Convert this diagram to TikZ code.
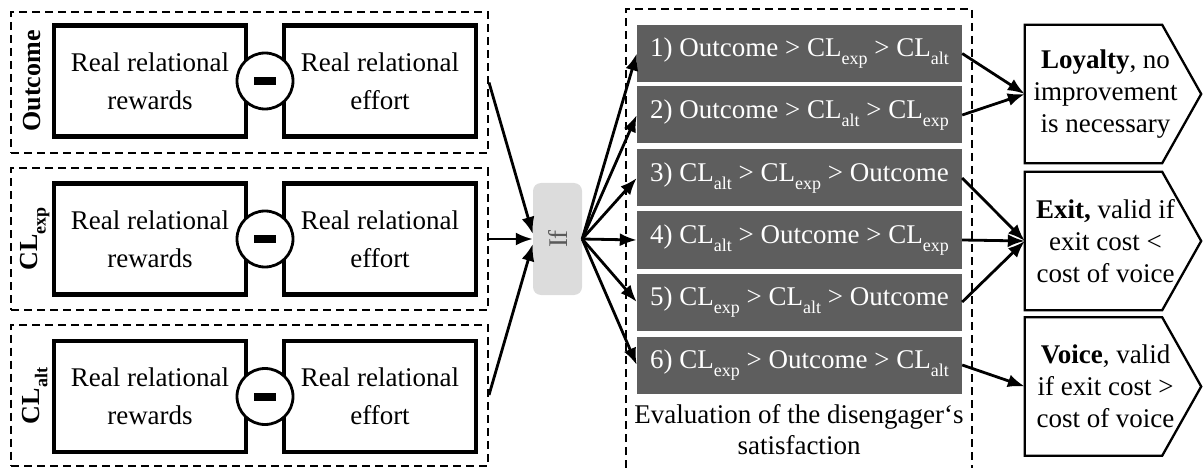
\documentclass[tikz,border=0pt]{standalone}
\usepackage{fontspec}
\setmainfont{Liberation Serif}
\usetikzlibrary{arrows.meta,calc}
\definecolor{rowgray}{HTML}{5E5E5E}
\definecolor{ifgray}{HTML}{DCDCDC}
\definecolor{iftext}{HTML}{5A5A5A}
% lowered, smaller subscript set in the text font
\newcommand\lsub[1]{\raisebox{-0.3em}{\fontsize{18}{18}\selectfont #1}}

\begin{document}
\begin{tikzpicture}[x=1pt,y=-1pt,
  dashline/.style={dashed, dash pattern=on 8pt off 5pt, line width=2pt},
  group/.style={draw, dashline, minimum width=477pt, minimum height=141pt, inner sep=0pt},
  term/.style={draw, line width=4.5pt, minimum width=192pt, minimum height=111pt,
    align=center, inner sep=0pt, font=\fontsize{27}{38}\selectfont},
  minus/.style={circle, draw, line width=2.8pt, fill=white, minimum size=56pt, inner sep=0pt},
  rowlabel/.style={rotate=90, inner sep=0pt, font=\bfseries\fontsize{26}{30}\selectfont},
  cond/.style={fill=rowgray, text=white, minimum width=325pt, minimum height=57pt,
    inner sep=0pt, font=\fontsize{27}{30}\selectfont},
  result/.style={minimum width=137pt, minimum height=138pt, inner sep=0pt},
  restext/.style={align=center, inner sep=0pt, font=\fontsize{27}{32}\selectfont},
  resline/.style={line width=2.3pt, line join=miter},
  link/.style={line width=2.8pt, -{Latex[length=17pt,width=13pt]}},
]
\useasboundingbox (0,0) rectangle (1203,468);

% --- three difference groups -------------------------------------------
\node[group] (g1) at (249.5,82.5) {};
\node[group] (g2) at (249.5,239) {};
\node[group] (g3) at (249.5,395) {};

\node[rowlabel] (l1) at (32,81) {Outcome};
\node[rowlabel] (l2) at (35,239) {CL\lsub{exp}};
\node[rowlabel] (l3) at (35,396) {CL\lsub{alt}};

\node[term] (a1) at (150,81) {Real relational\\rewards};
\node[term] (b1) at (380,81) {Real relational\\effort};
\node[term] (a2) at (150,239) {Real relational\\rewards};
\node[term] (b2) at (380,239) {Real relational\\effort};
\node[term] (a3) at (150,396.5) {Real relational\\rewards};
\node[term] (b3) at (380,396.5) {Real relational\\effort};

\node[minus] (m1) at (265,81) {\rule{22pt}{8pt}};
\node[minus] (m2) at (265,239) {\rule{22pt}{8pt}};
\node[minus] (m3) at (265,396.5) {\rule{22pt}{8pt}};

% --- decision node ------------------------------------------------------
\node[fill=ifgray, rounded corners=8pt, minimum width=49pt, minimum height=112pt,
  inner sep=0pt] (if) at (557.5,239) {};
\node[rotate=90, text=iftext, font=\fontsize{27}{30}\selectfont, inner sep=0pt]
  (iflabel) at (if.center) {If};

% --- evaluation column --------------------------------------------------
\draw[dashline] (626,468) -- (626,9) -- (972,9) -- (972,468);

\node[cond] (c1) at (799.5,53.5) {1) Outcome > CL\lsub{exp} > CL\lsub{alt}};
\node[cond] (c2) at (799.5,115) {2) Outcome > CL\lsub{alt} > CL\lsub{exp}};
\node[cond] (c3) at (799.5,178) {3) CL\lsub{alt} > CL\lsub{exp} > Outcome};
\node[cond] (c4) at (799.5,240) {4) CL\lsub{alt} > Outcome > CL\lsub{exp}};
\node[cond] (c5) at (799.5,302) {5) CL\lsub{exp} > CL\lsub{alt} > Outcome};
\node[cond] (c6) at (799.5,365) {6) CL\lsub{exp} > Outcome > CL\lsub{alt}};

\node[align=center, anchor=north, inner sep=0pt, font=\fontsize{27}{31}\selectfont]
  (ev) at (799,404) {Evaluation of the disengager‘s\\satisfaction};

% --- responses ----------------------------------------------------------
\node[result] (loy) at (1093.5,94) {};
\node[result] (ext) at (1093.5,241) {};
\node[result] (voi) at (1093.5,386.5) {};
\foreach \r in {loy,ext,voi}
  \draw[resline] (\r.north west) -- (\r.north east) -- ($(\r.east)+(39,0)$)
    -- (\r.south east) -- (\r.south west) -- cycle;
\node[restext] (loyt) at ($(loy.center)+(12,0)$) {\textbf{Loyalty}, no\\improvement\\is necessary};
\node[restext] (extt) at ($(ext.center)+(12,0)$) {\textbf{Exit,} valid if\\exit cost <\\cost of voice};
\node[restext] (voit) at ($(voi.center)+(12,0)$) {\textbf{Voice}, valid\\if exit cost >\\cost of voice};

% --- connectors ---------------------------------------------------------
\draw[link] (g1.east) -- ([yshift=5pt]if.west);
\draw[link] (g2.east) -- (if.west);
\draw[link] (g3.east) -- ([yshift=-5pt]if.west);

\foreach \c in {c1,c2,c3,c4,c5,c6}
  \draw[link] (if.east) -- (\c.west);

\draw[link] (c1.east) -- (loy.west);
\draw[link] (c2.east) -- (loy.west);
\draw[link] (c3.east) -- (ext.west);
\draw[link] (c4.east) -- (ext.west);
\draw[link] (c5.east) -- (ext.west);
\draw[link] (c6.east) -- (voi.west);
\end{tikzpicture}
\end{document}
